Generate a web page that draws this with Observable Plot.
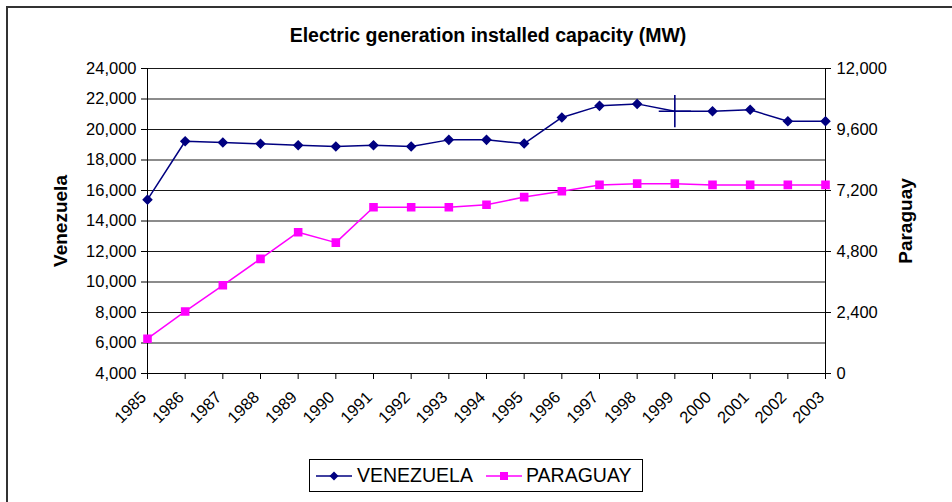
<!DOCTYPE html>
<html>
<head>
<meta charset="utf-8">
<script src="https://cdn.jsdelivr.net/npm/d3@7"></script>
<script src="https://cdn.jsdelivr.net/npm/@observablehq/plot@0.6"></script>
<style>
  html, body { margin: 0; padding: 0; background: #fff; }
  body { width: 952px; height: 502px; overflow: hidden; position: relative;
         font-family: "Liberation Sans", Arial, sans-serif; color: #000; }
  #border { position: absolute; left: 6px; top: 6px; width: 1000px; height: 600px;
            border-left: 2px solid #333; border-top: 2px solid #333; }
  #chart { position: absolute; left: 0; top: 0; }
  #title { position: absolute; left: 0; width: 976px; top: 24px; text-align: center;
           font-weight: bold; font-size: 19.5px; }
  #legend { position: absolute; left: 309px; top: 459px; width: 332px; height: 31px;
            border: 1px solid #000; background: #fff; font-size: 19.5px; }
  #legend .sw { position: absolute; top: 9px; }
  #legend .lb { position: absolute; top: 4px; white-space: nowrap; }
</style>
</head>
<body>
<div id="border"></div>
<div id="chart"></div>
<div id="title">Electric generation installed capacity (MW)</div>
<div id="legend">
  <svg class="sw" style="left:6px" width="36" height="14">
    <line x1="0" y1="7" x2="36" y2="7" stroke="#000080" stroke-width="1.5"/>
    <path d="M18,2.5L22.5,7L18,11.5L13.5,7Z" fill="#000080"/>
  </svg>
  <span class="lb" style="left:47px">VENEZUELA</span>
  <svg class="sw" style="left:176px" width="36" height="14">
    <line x1="0" y1="7" x2="36" y2="7" stroke="#FF00FF" stroke-width="1.5"/>
    <rect x="14" y="3" width="8" height="8" fill="#FF00FF"/>
  </svg>
  <span class="lb" style="left:216px">PARAGUAY</span>
</div>
<script>
// Installed electric generation capacity, MW
const years = [1985, 1986, 1987, 1988, 1989, 1990, 1991, 1992, 1993, 1994,
               1995, 1996, 1997, 1998, 1999, 2000, 2001, 2002, 2003];
const venezuela = [15400, 19230, 19150, 19060, 18970, 18890, 18970, 18890, 19320, 19320,
                   19080, 20790, 21550, 21680, 21200, 21200, 21290, 20540, 20540];
const paraguay = [1370, 2440, 3470, 4510, 5560, 5150, 6540, 6540, 6540, 6640,
                  6940, 7170, 7420, 7470, 7470, 7420, 7420, 7420, 7420];

// Axis ticks: left axis for Venezuela, right axis for Paraguay
const leftTicks = [4000, 6000, 8000, 10000, 12000, 14000, 16000, 18000, 20000, 22000, 24000];
const rightTicks = [0, 2400, 4800, 7200, 9600, 12000];
const highlightYear = 1999;

// Paraguay values are mapped onto the left (Venezuela) scale for plotting
const toLeft = d3.scaleLinear()
  .domain([rightTicks[0], rightTicks[rightTicks.length - 1]])
  .range([leftTicks[0], leftTicks[leftTicks.length - 1]]);
const fmt = d3.format(",");

const venRows = years.map((year, i) => ({year, value: venezuela[i]}));
const parRows = years.map((year, i) => ({year, value: paraguay[i]}));

const navy = "#000080";
const magenta = "#FF00FF";

const chart = Plot.plot({
  width: 952,
  height: 502,
  marginLeft: 147,
  marginRight: 127,
  marginTop: 68,
  marginBottom: 129,
  style: {fontFamily: "'Liberation Sans', Arial, sans-serif", fontSize: "16.5px", color: "#000", background: "transparent"},
  x: {type: "point", domain: years, padding: 0, round: false, insetLeft: 0, insetRight: 0},
  y: {domain: [leftTicks[0], leftTicks[leftTicks.length - 1]]},
  marks: [
    Plot.gridY(leftTicks.slice(1), {stroke: "#000", strokeOpacity: 0.9}),
    Plot.ruleX([years[0], years[years.length - 1]], {stroke: "#000"}),
    Plot.ruleY([leftTicks[0]], {stroke: "#000"}),
    Plot.axisY(leftTicks, {anchor: "left", tickSize: 6, tickPadding: 5, tickFormat: fmt, label: null}),
    Plot.axisY(rightTicks.map(toLeft), {anchor: "right", tickSize: 5, tickPadding: 6,
      tickFormat: d => fmt(Math.round(toLeft.invert(d))), label: null}),
    // year tick marks, then the slanted year labels
    Plot.axisX(years, {anchor: "bottom", tickSize: 6, tickFormat: () => "", label: null}),
    Plot.axisX(years, {anchor: "bottom", tickSize: 0, tickPadding: 21, dx: -4, tickRotate: -45,
      tickFormat: d => String(d), label: null}),
    Plot.text(["Venezuela"], {frameAnchor: "left", textAnchor: "middle", dx: -87, rotate: -90,
      fontWeight: "bold", fontSize: 19}),
    Plot.text(["Paraguay"], {frameAnchor: "right", textAnchor: "middle", dx: 80, rotate: -90,
      fontWeight: "bold", fontSize: 19}),
    Plot.line(venRows, {x: "year", y: "value", stroke: navy, strokeWidth: 1.5}),
    Plot.line(parRows, {x: "year", y: d => toLeft(d.value), stroke: magenta, strokeWidth: 1.5}),
    Plot.dot(venRows.filter(d => d.year !== highlightYear), {x: "year", y: "value", symbol: "diamond2",
      r: 3.8, fill: navy, stroke: navy}),
    Plot.dot(venRows.filter(d => d.year === highlightYear), {x: "year", y: "value", symbol: "plus",
      r: 10.4, stroke: navy, strokeWidth: 1.6}),
    Plot.dot(parRows, {x: "year", y: d => toLeft(d.value), symbol: "square", r: 4, fill: magenta, stroke: magenta})
  ]
});
document.getElementById("chart").appendChild(chart);
</script>
</body>
</html>
